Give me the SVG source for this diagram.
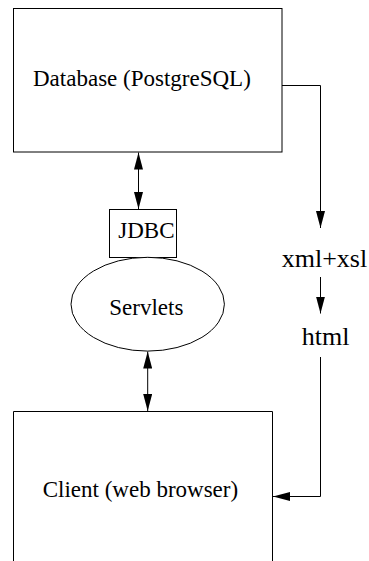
<svg xmlns="http://www.w3.org/2000/svg" width="369" height="561" viewBox="0 0 369 561">
  <style>
    .box { fill: #fff; stroke: #000; stroke-width: 1; }
    .lbl { font-family: "Liberation Serif", "Times New Roman", serif; font-size: 23px; fill: #000; }
    .flow { font-family: "Liberation Serif", "Times New Roman", serif; font-size: 26px; fill: #000; }
    .wire { fill: none; stroke: #000; stroke-width: 1; }
  </style>
  <defs>
    <marker id="head" markerWidth="17" markerHeight="9" refX="17" refY="4.5" orient="auto-start-reverse" markerUnits="userSpaceOnUse">
      <path d="M0,0 L17,4.5 L0,9 Z" fill="#000"/>
    </marker>
  </defs>
  <rect width="369" height="561" fill="#fff"/>

  <g id="database">
    <rect class="box" x="13.5" y="8.5" width="268.5" height="143.5"/>
    <text class="lbl" x="33" y="86">Database (PostgreSQL)</text>
  </g>

  <g id="jdbc">
    <rect class="box" x="109.5" y="209.5" width="67" height="48"/>
    <text class="lbl" x="118.3" y="237.5">JDBC</text>
  </g>

  <g id="servlets">
    <ellipse class="box" cx="147.7" cy="304.2" rx="76.7" ry="46.9"/>
    <text class="lbl" x="109.3" y="315">Servlets</text>
  </g>

  <g id="client">
    <path class="box" d="M13.5,562 V411.5 H272.5 V562"/>
    <text class="lbl" x="42.7" y="497">Client (web browser)</text>
  </g>

  <g id="xmlxsl">
    <text class="flow" x="281.7" y="266.5">xml+xsl</text>
  </g>

  <g id="html">
    <text class="flow" x="301.7" y="345">html</text>
  </g>

  <g id="connectors">
    <line class="wire" x1="138.5" y1="152.5" x2="138.5" y2="209" marker-start="url(#head)" marker-end="url(#head)"/>
    <line class="wire" x1="147.7" y1="351.5" x2="147.7" y2="411" marker-start="url(#head)" marker-end="url(#head)"/>
    <polyline class="wire" points="282,85.5 320.5,85.5 320.5,228" marker-end="url(#head)"/>
    <line class="wire" x1="320.5" y1="277" x2="320.5" y2="313.5" marker-end="url(#head)"/>
    <polyline class="wire" points="320.5,357 320.5,496.5 273,496.5" marker-end="url(#head)"/>
  </g>
</svg>
